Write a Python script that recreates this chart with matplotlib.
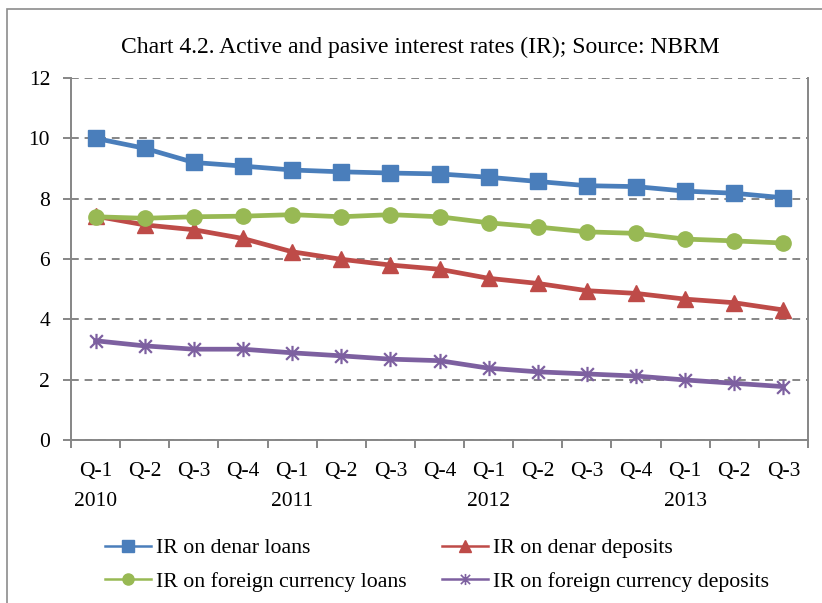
import matplotlib.pyplot as plt
from matplotlib.lines import Line2D
from matplotlib.patches import Rectangle
from matplotlib.path import Path

plt.rcParams['font.family'] = ['Liberation Serif', 'DejaVu Serif']

quarters = ['Q-1', 'Q-2', 'Q-3', 'Q-4', 'Q-1', 'Q-2', 'Q-3', 'Q-4',
            'Q-1', 'Q-2', 'Q-3', 'Q-4', 'Q-1', 'Q-2', 'Q-3']
years = ['2010', '', '', '', '2011', '', '', '', '2012', '', '', '', '2013', '', '']

denar_loans = [10.0, 9.67, 9.20, 9.08, 8.95, 8.89, 8.85, 8.82,
               8.71, 8.57, 8.43, 8.40, 8.25, 8.18, 8.03]
denar_deposits = [7.42, 7.13, 6.97, 6.68, 6.24, 5.99, 5.80, 5.66,
                  5.36, 5.19, 4.95, 4.86, 4.67, 4.55, 4.31]
fx_loans = [7.40, 7.35, 7.40, 7.42, 7.47, 7.40, 7.47, 7.40,
            7.20, 7.06, 6.90, 6.85, 6.66, 6.60, 6.53]
fx_deposits = [3.29, 3.12, 3.01, 3.01, 2.89, 2.79, 2.68, 2.63,
               2.38, 2.26, 2.19, 2.12, 1.99, 1.88, 1.77]

# excel style star: an x with a vertical bar through it
star = Path([(-1, -1), (1, 1), (-1, 1), (1, -1), (0, -1.2), (0, 1.2)],
            [Path.MOVETO, Path.LINETO, Path.MOVETO, Path.LINETO, Path.MOVETO, Path.LINETO])

series = [
    ('IR on denar loans', denar_loans, '#4A7EBB', 's', 11),
    ('IR on denar deposits', denar_deposits, '#BE4B48', '^', 11),
    ('IR on foreign currency loans', fx_loans, '#98B954', 'o', 11),
    ('IR on foreign currency deposits', fx_deposits, '#7D60A0', star, 11),
]

fig = plt.figure(figsize=(8.22, 6.03), dpi=100)
W, H = 822, 603
ax = fig.add_axes([71 / W, 1 - 440 / H, (808 - 71) / W, (440 - 78) / H])

# outer chart border
fig.patches.append(Rectangle((7 / W, -0.1), 1.2, 1 - 9 / H + 0.1, transform=fig.transFigure,
                             fill=False, edgecolor='#8C8C8C', linewidth=1.2))

x = list(range(len(quarters)))
handles = {}
for name, vals, color, marker, ms in series:
    is_star = marker is star
    ax.plot(x, vals, color=color, linewidth=3.4, marker=marker, markersize=ms,
            markeredgewidth=1.6 if is_star else 1, markeredgecolor=color, zorder=3)
    handles[name] = Line2D([], [], color=color, linewidth=1.8, marker=marker,
                           markersize=8, markeredgewidth=1.2 if is_star else 1,
                           markeredgecolor=color, label=name)

ax.set_xlim(-0.5, len(quarters) - 0.5)
ax.set_ylim(0, 12)
ax.set_yticks(range(0, 13, 2))
ax.yaxis.grid(True, linestyle=(0, (4, 3)), color='#868686', linewidth=1.4)
ax.set_axisbelow(True)

ax.set_xticks(x)
ax.set_xticklabels([q + '\n' + y for q, y in zip(quarters, years)], linespacing=1.75)
ax.set_xticks([i - 0.5 for i in range(len(quarters) + 1)], minor=True)
ax.tick_params(axis='x', which='major', length=0, pad=16, labelsize=15.5)
ax.tick_params(axis='x', which='minor', length=6, color='#868686', width=1.4)
ax.tick_params(axis='y', length=6, color='#868686', width=1.4, labelsize=15.5, pad=9)

for side in ['left', 'bottom', 'right']:
    ax.spines[side].set_color('#868686')
    ax.spines[side].set_linewidth(1.4)
ax.spines['top'].set_visible(False)

fig.text(420 / W, 1 - 47 / H, 'Chart 4.2. Active and pasive interest rates (IR); Source: NBRM',
         ha='center', va='center', fontsize=17)

# legend fills row by row in the reference
order = ['IR on denar loans', 'IR on foreign currency loans',
         'IR on denar deposits', 'IR on foreign currency deposits']
fig.legend(handles=[handles[n] for n in order], ncol=2, loc='upper left',
           bbox_to_anchor=(105 / W, 1 - 538 / H), borderpad=0, borderaxespad=0,
           frameon=False, fontsize=15.7, handlelength=2.1, columnspacing=1.6,
           handletextpad=0.25, labelspacing=0.62)

fig.savefig('out.png', dpi=100)
